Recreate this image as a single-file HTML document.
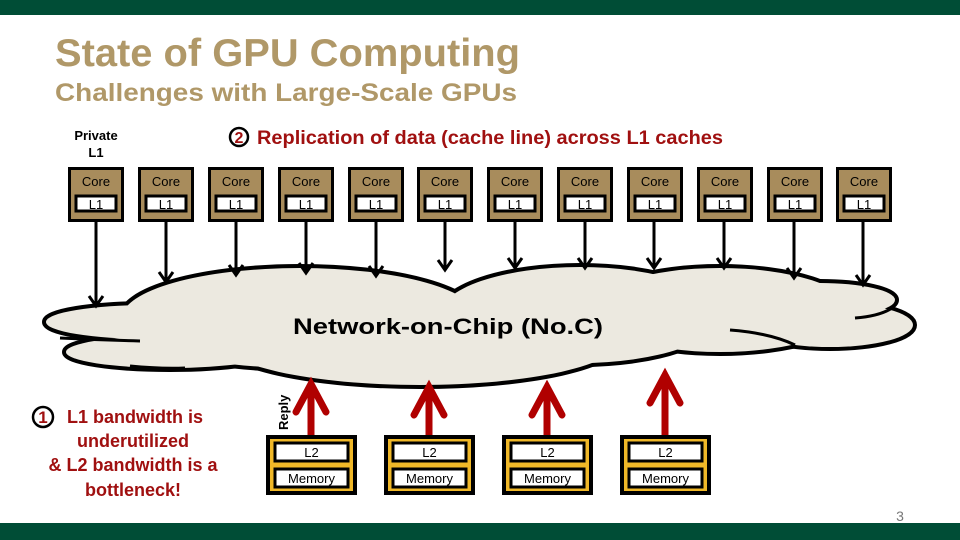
<!DOCTYPE html>
<html><head><meta charset="utf-8"><style>
body{margin:0;background:#fff}
svg{display:block}
text{font-family:"Liberation Sans",Arial,sans-serif}
</style></head><body>
<svg width="960" height="540" viewBox="0 0 960 540" xmlns="http://www.w3.org/2000/svg">
<rect x="0" y="0" width="960" height="15" fill="#004d36"/>
<rect x="0" y="523" width="960" height="17" fill="#004d36"/>
<text x="55" y="66" font-size="39" font-weight="bold" fill="#b09868" textLength="465" lengthAdjust="spacingAndGlyphs">State of GPU Computing</text>
<text x="55" y="101" font-size="25" font-weight="bold" fill="#b09868" textLength="462" lengthAdjust="spacingAndGlyphs">Challenges with Large-Scale GPUs</text>
<text x="96" y="140" font-size="13" font-weight="bold" text-anchor="middle">Private</text>
<text x="96" y="157" font-size="13" font-weight="bold" text-anchor="middle">L1</text>
<circle cx="239" cy="137" r="9" fill="none" stroke="#000" stroke-width="2.5"/>
<text x="239" y="143" font-size="16" font-weight="bold" fill="#a01010" text-anchor="middle">2</text>
<text x="257" y="144" font-size="19" font-weight="bold" fill="#a01010" textLength="466" lengthAdjust="spacingAndGlyphs">Replication of data (cache line) across L1 caches</text>

<!-- cloud -->
<g stroke="#000" stroke-width="8" fill="#000">
<ellipse cx="150" cy="322" rx="104" ry="17"/>
<ellipse cx="170" cy="352" rx="104" ry="16"/>
<ellipse cx="300" cy="318" rx="178" ry="50"/>
<ellipse cx="420" cy="340" rx="200" ry="45"/>
<ellipse cx="580" cy="315" rx="140" ry="48"/>
<ellipse cx="720" cy="310" rx="130" ry="42"/>
<ellipse cx="820" cy="300" rx="75" ry="17"/>
<ellipse cx="830" cy="325" rx="83" ry="22"/>
</g>
<g fill="#ece9e0">
<ellipse cx="150" cy="322" rx="104" ry="17"/>
<ellipse cx="170" cy="352" rx="104" ry="16"/>
<ellipse cx="300" cy="318" rx="178" ry="50"/>
<ellipse cx="420" cy="340" rx="200" ry="45"/>
<ellipse cx="580" cy="315" rx="140" ry="48"/>
<ellipse cx="720" cy="310" rx="130" ry="42"/>
<ellipse cx="820" cy="300" rx="75" ry="17"/>
<ellipse cx="830" cy="325" rx="83" ry="22"/>
</g>
<g fill="none" stroke="#000" stroke-width="3">
<path d="M60 338 Q100 340 140 341"/>
<path d="M130 366 Q160 369 185 368"/>
<path d="M730 330 Q770 333 795 345"/>
<path d="M855 318 Q880 316 892 308"/>
</g>
<text x="448" y="334" font-size="22" font-weight="bold" text-anchor="middle" textLength="310" lengthAdjust="spacingAndGlyphs">Network-on-Chip (No.C)</text>

<g font-size="13" text-anchor="middle">
<g transform="translate(68,167)"><rect x="1.5" y="1.5" width="53" height="52" fill="#a88c5c" stroke="#000" stroke-width="3"/><rect x="8" y="29" width="40" height="15" fill="#fff" stroke="#000" stroke-width="3"/><text x="28" y="19">Core</text><text x="28" y="42">L1</text></g>
<g transform="translate(138,167)"><rect x="1.5" y="1.5" width="53" height="52" fill="#a88c5c" stroke="#000" stroke-width="3"/><rect x="8" y="29" width="40" height="15" fill="#fff" stroke="#000" stroke-width="3"/><text x="28" y="19">Core</text><text x="28" y="42">L1</text></g>
<g transform="translate(208,167)"><rect x="1.5" y="1.5" width="53" height="52" fill="#a88c5c" stroke="#000" stroke-width="3"/><rect x="8" y="29" width="40" height="15" fill="#fff" stroke="#000" stroke-width="3"/><text x="28" y="19">Core</text><text x="28" y="42">L1</text></g>
<g transform="translate(278,167)"><rect x="1.5" y="1.5" width="53" height="52" fill="#a88c5c" stroke="#000" stroke-width="3"/><rect x="8" y="29" width="40" height="15" fill="#fff" stroke="#000" stroke-width="3"/><text x="28" y="19">Core</text><text x="28" y="42">L1</text></g>
<g transform="translate(348,167)"><rect x="1.5" y="1.5" width="53" height="52" fill="#a88c5c" stroke="#000" stroke-width="3"/><rect x="8" y="29" width="40" height="15" fill="#fff" stroke="#000" stroke-width="3"/><text x="28" y="19">Core</text><text x="28" y="42">L1</text></g>
<g transform="translate(417,167)"><rect x="1.5" y="1.5" width="53" height="52" fill="#a88c5c" stroke="#000" stroke-width="3"/><rect x="8" y="29" width="40" height="15" fill="#fff" stroke="#000" stroke-width="3"/><text x="28" y="19">Core</text><text x="28" y="42">L1</text></g>
<g transform="translate(487,167)"><rect x="1.5" y="1.5" width="53" height="52" fill="#a88c5c" stroke="#000" stroke-width="3"/><rect x="8" y="29" width="40" height="15" fill="#fff" stroke="#000" stroke-width="3"/><text x="28" y="19">Core</text><text x="28" y="42">L1</text></g>
<g transform="translate(557,167)"><rect x="1.5" y="1.5" width="53" height="52" fill="#a88c5c" stroke="#000" stroke-width="3"/><rect x="8" y="29" width="40" height="15" fill="#fff" stroke="#000" stroke-width="3"/><text x="28" y="19">Core</text><text x="28" y="42">L1</text></g>
<g transform="translate(627,167)"><rect x="1.5" y="1.5" width="53" height="52" fill="#a88c5c" stroke="#000" stroke-width="3"/><rect x="8" y="29" width="40" height="15" fill="#fff" stroke="#000" stroke-width="3"/><text x="28" y="19">Core</text><text x="28" y="42">L1</text></g>
<g transform="translate(697,167)"><rect x="1.5" y="1.5" width="53" height="52" fill="#a88c5c" stroke="#000" stroke-width="3"/><rect x="8" y="29" width="40" height="15" fill="#fff" stroke="#000" stroke-width="3"/><text x="28" y="19">Core</text><text x="28" y="42">L1</text></g>
<g transform="translate(767,167)"><rect x="1.5" y="1.5" width="53" height="52" fill="#a88c5c" stroke="#000" stroke-width="3"/><rect x="8" y="29" width="40" height="15" fill="#fff" stroke="#000" stroke-width="3"/><text x="28" y="19">Core</text><text x="28" y="42">L1</text></g>
<g transform="translate(836,167)"><rect x="1.5" y="1.5" width="53" height="52" fill="#a88c5c" stroke="#000" stroke-width="3"/><rect x="8" y="29" width="40" height="15" fill="#fff" stroke="#000" stroke-width="3"/><text x="28" y="19">Core</text><text x="28" y="42">L1</text></g>
</g>

<g stroke="#000" stroke-width="3" fill="none">
<path d="M96 222V306M89 296L96 306L103 296"/>
<path d="M166 222V282M159 272L166 282L173 272"/>
<path d="M236 222V275M229 265L236 275L243 265"/>
<path d="M306 222V273M299 263L306 273L313 263"/>
<path d="M376 222V276M369 266L376 276L383 266"/>
<path d="M445 222V270M438 260L445 270L452 260"/>
<path d="M515 222V268M508 258L515 268L522 258"/>
<path d="M585 222V268M578 258L585 268L592 258"/>
<path d="M654 222V268M647 258L654 268L661 258"/>
<path d="M724 222V268M717 258L724 268L731 258"/>
<path d="M794 222V278M787 268L794 278L801 268"/>
<path d="M863 222V285M856 275L863 285L870 275"/>
</g>

<g stroke="#b00000" stroke-width="7" fill="none" stroke-linecap="round">
<path d="M311 435V384M296 412L311 384L326 412"/>
<path d="M429 435V387M414 415L429 387L444 415"/>
<path d="M547 435V387M532 415L547 387L562 415"/>
<path d="M665 435V375M650 403L665 375L680 403"/>
</g>
<text transform="translate(288,430) rotate(-90)" font-size="13" font-weight="bold">Reply</text>

<g font-size="13" text-anchor="middle">
<g transform="translate(266,435)"><rect x="2" y="2" width="87" height="56" fill="#f0b828" stroke="#000" stroke-width="4"/><rect x="9" y="8" width="73" height="18" fill="#fff" stroke="#000" stroke-width="3"/><rect x="9" y="34" width="73" height="18" fill="#fff" stroke="#000" stroke-width="3"/><text x="45.5" y="22">L2</text><text x="45.5" y="48">Memory</text></g>
<g transform="translate(384,435)"><rect x="2" y="2" width="87" height="56" fill="#f0b828" stroke="#000" stroke-width="4"/><rect x="9" y="8" width="73" height="18" fill="#fff" stroke="#000" stroke-width="3"/><rect x="9" y="34" width="73" height="18" fill="#fff" stroke="#000" stroke-width="3"/><text x="45.5" y="22">L2</text><text x="45.5" y="48">Memory</text></g>
<g transform="translate(502,435)"><rect x="2" y="2" width="87" height="56" fill="#f0b828" stroke="#000" stroke-width="4"/><rect x="9" y="8" width="73" height="18" fill="#fff" stroke="#000" stroke-width="3"/><rect x="9" y="34" width="73" height="18" fill="#fff" stroke="#000" stroke-width="3"/><text x="45.5" y="22">L2</text><text x="45.5" y="48">Memory</text></g>
<g transform="translate(620,435)"><rect x="2" y="2" width="87" height="56" fill="#f0b828" stroke="#000" stroke-width="4"/><rect x="9" y="8" width="73" height="18" fill="#fff" stroke="#000" stroke-width="3"/><rect x="9" y="34" width="73" height="18" fill="#fff" stroke="#000" stroke-width="3"/><text x="45.5" y="22">L2</text><text x="45.5" y="48">Memory</text></g>
</g>

<circle cx="43" cy="417" r="10" fill="none" stroke="#000" stroke-width="2.5"/>
<text x="43" y="423" font-size="17" font-weight="bold" fill="#a01010" text-anchor="middle">1</text>
<g font-size="18" font-weight="bold" fill="#a01010" text-anchor="middle">
<text x="135" y="423">L1 bandwidth is</text>
<text x="133" y="447">underutilized</text>
<text x="133" y="471">&amp; L2 bandwidth is a</text>
<text x="133" y="496">bottleneck!</text>
</g>
<text x="900" y="521" font-size="14" fill="#777" text-anchor="middle">3</text>
</svg>
</body></html>
